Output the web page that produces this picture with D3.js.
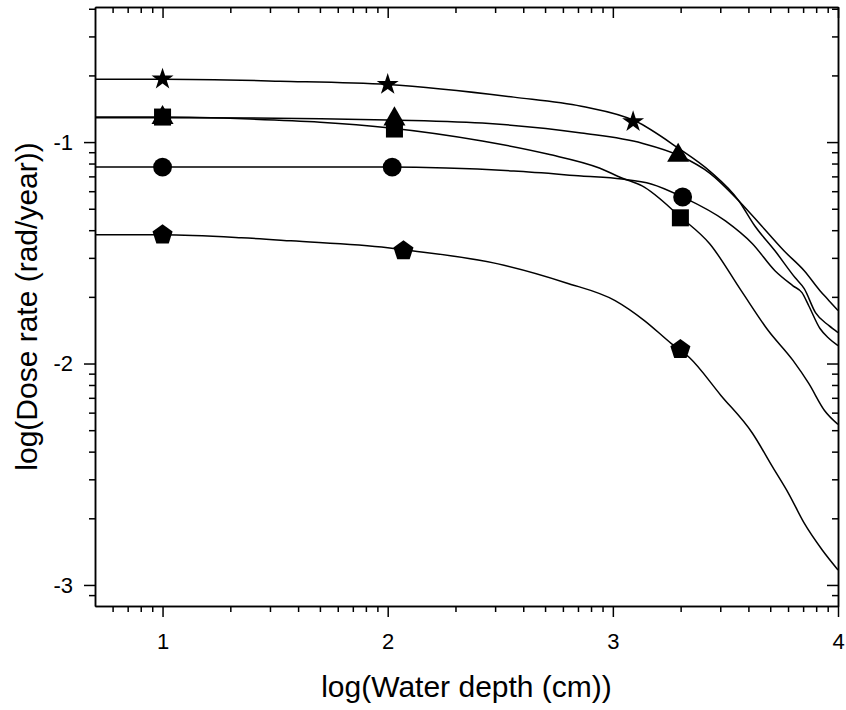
<!DOCTYPE html>
<meta charset="utf-8">

<script src="https://d3js.org/d3.v7.min.js"></script>

<style type="text/css">

body {
    margin: 0;
    background: #fff;
}

.axis path, .axis line {
    stroke: #000;
    stroke-width: 1.5px;
}

.axisTitle {
    font-family: Arial, "Liberation Sans", sans-serif;
    font-size: 30px;
    fill: #000;
}

.curve {
    fill: none;
    stroke: #000;
    stroke-width: 1.5px;
}

</style>

<body>
</body>

<script>

// fitted curves, [log depth, log dose rate]
var starCurve = [
    [0.70, -0.716], [1.0, -0.716], [1.52, -0.725], [2.0, -0.740], [2.56, -0.797],
    [2.86, -0.838], [3.10, -0.905], [3.29, -1.027], [3.43, -1.131], [3.56, -1.266],
    [3.63, -1.378], [3.72, -1.491], [3.81, -1.613], [3.85, -1.662], [3.90, -1.770],
    [3.96, -1.829], [4.0, -1.860]
];

var triangleCurve = [
    [0.70, -0.890], [1.0, -0.890], [2.0, -0.900], [2.42, -0.914], [2.86, -0.959],
    [3.13, -1.005], [3.30, -1.063], [3.43, -1.140], [3.56, -1.266], [3.66, -1.378],
    [3.76, -1.491], [3.85, -1.581], [3.92, -1.671], [3.96, -1.716], [4.0, -1.761]
];

var squareCurve = [
    [0.70, -0.887], [1.0, -0.887], [1.39, -0.896], [1.70, -0.910], [2.0, -0.935],
    [2.42, -0.995], [2.71, -1.054], [2.94, -1.117], [3.04, -1.162], [3.13, -1.198],
    [3.30, -1.338], [3.43, -1.459], [3.57, -1.671], [3.69, -1.851], [3.80, -1.986],
    [3.87, -2.090], [3.94, -2.212], [4.0, -2.275]
];

var circleCurve = [
    [0.70, -1.113], [1.0, -1.113], [2.0, -1.113], [2.56, -1.131], [2.86, -1.153],
    [3.04, -1.167], [3.17, -1.189], [3.31, -1.248], [3.50, -1.356], [3.62, -1.459],
    [3.72, -1.581], [3.80, -1.649], [3.84, -1.680], [3.87, -1.739], [3.92, -1.842],
    [3.96, -1.887], [4.0, -1.919]
];

var pentagonCurve = [
    [0.70, -1.419], [1.0, -1.419], [1.35, -1.432], [1.57, -1.446], [2.0, -1.477],
    [2.07, -1.486], [2.49, -1.550], [2.79, -1.635], [3.01, -1.716], [3.14, -1.806],
    [3.26, -1.910], [3.34, -1.973], [3.48, -2.144], [3.62, -2.315], [3.71, -2.468],
    [3.78, -2.586], [3.85, -2.721], [3.93, -2.842], [4.0, -2.932]
];

// measured points
var starPoints = [[1.0, -0.716], [2.0, -0.740], [3.09, -0.908]];
var trianglePoints = [[1.0, -0.890], [2.03, -0.896], [3.29, -1.060]];
var squarePoints = [[1.0, -0.887], [2.03, -0.941], [3.30, -1.342]];
var circlePoints = [[1.0, -1.113], [2.02, -1.113], [3.31, -1.248]];
var pentagonPoints = [[1.0, -1.419], [2.07, -1.491], [3.30, -1.937]];

var xMajor = [1, 2, 3, 4];
var yMajor = [-3, -2, -1];

var margin = {top: 7, right: 8, bottom: 104, left: 95};

var width = 846 - margin.left - margin.right,
    height = 710 - margin.top - margin.bottom;

var svg = d3.select("body").append("svg")
    .attr("width", width + margin.left + margin.right)
    .attr("height", height + margin.top + margin.bottom)
    .append("g")
    .attr("transform", "translate(" + margin.left + "," + margin.top + ")");

var xScale = d3.scaleLinear()
    .domain([0.7, 4.0])
    .range([0, width]);

var yScale = d3.scaleLinear()
    .domain([-3.095, -0.39])
    .range([height, 0]);

// log-style minor ticks inside each unit
function minorTicks(lo, hi, domain) {
    var out = [];
    for (var n = lo; n <= hi; n++) {
        for (var k = 2; k <= 9; k++) {
            var v = n + Math.log10(k);
            if (v >= domain[0] && v <= domain[1]) out.push(v);
        }
    }
    return out;
}

var xMinor = minorTicks(0, 3, xScale.domain());
var yMinor = minorTicks(-4, -1, yScale.domain());

var major = 11, minor = 6;

// bottom
svg.append('g')
    .attr('class', 'axis')
    .attr('transform', 'translate(0,' + height + ')')
    .call(d3.axisBottom(xScale).tickValues(xMinor).tickSize(minor).tickSizeOuter(0).tickFormat(''));
svg.append('g')
    .attr('class', 'x axis')
    .attr('transform', 'translate(0,' + height + ')')
    .call(d3.axisBottom(xScale).tickValues(xMajor).tickSize(major).tickSizeOuter(0).tickPadding(16).tickFormat(d3.format('d')));

// top, ticks inward
svg.append('g')
    .attr('class', 'axis')
    .call(d3.axisTop(xScale).tickValues(xMinor).tickSize(-minor).tickSizeOuter(0).tickFormat(''));
svg.append('g')
    .attr('class', 'axis')
    .call(d3.axisTop(xScale).tickValues(xMajor).tickSize(-major).tickSizeOuter(0).tickFormat(''));

// left
svg.append('g')
    .attr('class', 'axis')
    .call(d3.axisLeft(yScale).tickValues(yMinor).tickSize(minor).tickSizeOuter(0).tickFormat(''));
svg.append('g')
    .attr('class', 'y axis')
    .call(d3.axisLeft(yScale).tickValues(yMajor).tickSize(major).tickSizeOuter(0).tickPadding(11).tickFormat(d3.format('d')));

// right, ticks inward
svg.append('g')
    .attr('class', 'axis')
    .attr('transform', 'translate(' + width + ',0)')
    .call(d3.axisRight(yScale).tickValues(yMinor).tickSize(-minor).tickSizeOuter(0).tickFormat(''));
svg.append('g')
    .attr('class', 'axis')
    .attr('transform', 'translate(' + width + ',0)')
    .call(d3.axisRight(yScale).tickValues(yMajor).tickSize(-major).tickSizeOuter(0).tickFormat(''));

svg.selectAll('.y.axis text').text(function(d) { return '-' + Math.abs(d); });

svg.selectAll('.x.axis, .y.axis')
    .attr('font-family', 'Arial, "Liberation Sans", sans-serif')
    .attr('font-size', 22);
svg.selectAll('.x.axis text, .y.axis text')
    .style('font-size', '22px')
    .style('fill', '#000');

var line = d3.line()
    .x(function(d) { return xScale(d[0]); })
    .y(function(d) { return yScale(d[1]); })
    .curve(d3.curveMonotoneX);

var curves = [starCurve, triangleCurve, squareCurve, circleCurve, pentagonCurve];

svg.selectAll('.curve')
    .data(curves)
    .enter()
    .append('path')
    .attr('class', 'curve')
    .attr('d', line);

var symbolPentagon = {
    draw: function(context, size) {
        var r = Math.sqrt(size / 2.3776);
        for (var i = 0; i < 5; i++) {
            var a = -Math.PI / 2 + i * 2 * Math.PI / 5;
            if (i === 0) context.moveTo(r * Math.cos(a), r * Math.sin(a));
            else context.lineTo(r * Math.cos(a), r * Math.sin(a));
        }
        context.closePath();
    }
};

var markerSets = [
    {points: starPoints, type: d3.symbolStar, size: 150},
    {points: trianglePoints, type: d3.symbolTriangle, size: 210},
    {points: squarePoints, type: d3.symbolSquare, size: 290},
    {points: circlePoints, type: d3.symbolCircle, size: 280},
    {points: pentagonPoints, type: symbolPentagon, size: 265}
];

markerSets.forEach(function(m) {
    svg.selectAll(null)
        .data(m.points)
        .enter()
        .append('path')
        .attr('transform', function(d) { return 'translate(' + xScale(d[0]) + ',' + yScale(d[1]) + ')'; })
        .attr('d', d3.symbol().type(m.type).size(m.size))
        .style('fill', '#000');
});

svg.append('text')
    .attr('class', 'axisTitle')
    .attr('x', width / 2)
    .attr('y', height + 91)
    .attr('text-anchor', 'middle')
    .text('log(Water depth (cm))');

svg.append('text')
    .attr('class', 'axisTitle')
    .attr('transform', 'translate(' + (37 - margin.left) + ',' + (height / 2) + ') rotate(-90)')
    .attr('text-anchor', 'middle')
    .text('log(Dose rate (rad/year))');

</script>
